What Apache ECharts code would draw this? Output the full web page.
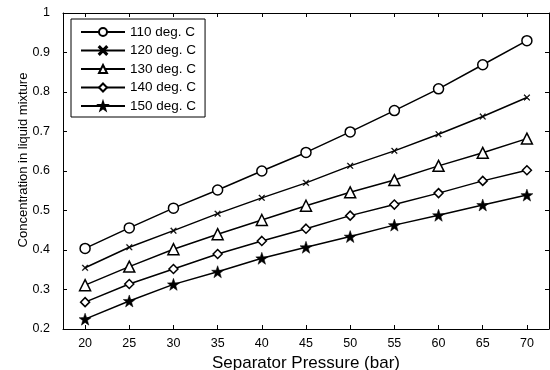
<!DOCTYPE html>
<html><head><meta charset="utf-8">
<script src="https://cdn.jsdelivr.net/npm/echarts@6/dist/echarts.min.js"></script>
<style>html,body{margin:0;padding:0;background:#fff}#c{width:550px;height:370px}</style>
</head><body><div id="c"></div>
<script>
const pressures = [20, 25, 30, 35, 40, 45, 50, 55, 60, 65, 70];
const xTicks = [20, 25, 30, 35, 40, 45, 50, 55, 60, 65, 70];
const seriesNames = ['110 deg. C', '120 deg. C', '130 deg. C', '140 deg. C', '150 deg. C'];
const s110 = [0.404, 0.456, 0.506, 0.552, 0.600, 0.647, 0.699, 0.753, 0.808, 0.869, 0.930];
const s120 = [0.355, 0.407, 0.449, 0.492, 0.532, 0.570, 0.613, 0.651, 0.693, 0.738, 0.786];
const s130 = [0.311, 0.358, 0.402, 0.440, 0.476, 0.512, 0.546, 0.577, 0.613, 0.646, 0.682];
const s140 = [0.268, 0.314, 0.352, 0.390, 0.423, 0.454, 0.487, 0.515, 0.544, 0.575, 0.602];
const s150 = [0.225, 0.271, 0.313, 0.345, 0.379, 0.407, 0.434, 0.463, 0.488, 0.514, 0.539];
const allValues = [s110, s120, s130, s140, s150];
const xTitle = 'Separator Pressure (bar)';
const yTitle = 'Concentration in liquid mixture';

const STAR = 'path://M0,-10 L2.35,-3.24 L9.51,-3.09 L3.8,1.24 L5.88,8.09 L0,4 L-5.88,8.09 L-3.8,1.24 L-9.51,-3.09 L-2.35,-3.24 Z';
const XMARK = 'path://M1,0 L5,4 L9,0 L10,1 L6,5 L10,9 L9,10 L5,6 L1,10 L0,9 L4,5 L0,1 Z';
const markers = [
  {symbol: 'circle', size: 10, hollow: true},
  {symbol: XMARK, size: 6, hollow: false},
  {symbol: 'triangle', size: 11, hollow: true},
  {symbol: 'diamond', size: 9, hollow: true},
  {symbol: STAR, size: 12, hollow: false}
];
const FONT = 'Liberation Sans, Arial, sans-serif';

const chart = echarts.init(document.getElementById('c'), null, {renderer: 'canvas'});
const axisCommon = {
  axisLine: {show: true, onZero: false, lineStyle: {color: '#000', width: 1}},
  axisTick: {show: true, inside: true, length: 4, lineStyle: {color: '#000'}},
  splitLine: {show: false}
};
chart.setOption({
  animation: false,
  backgroundColor: '#fff',
  grid: {left: 63, right: 1, top: 13, bottom: 41, containLabel: false, outerBoundsMode: 'none'},
  graphic: [{
    type: 'text', x: 23, y: 160, rotation: Math.PI / 2,
    style: {text: yTitle, font: '13px ' + FONT, fill: '#000', align: 'center', verticalAlign: 'middle'}
  }],
  legend: {
    left: 71, top: 19, orient: 'vertical',
    itemWidth: 44, itemHeight: 10, itemGap: 4.5,
    padding: [6, 9, 4, 9],
    borderColor: '#000', borderWidth: 1, backgroundColor: '#fff',
    textStyle: {fontFamily: FONT, fontSize: 13.5, lineHeight: 14, color: '#000'},
    data: seriesNames
  },
  xAxis: [
    Object.assign({}, axisCommon, {
      type: 'value', min: 17.5, max: 72.5, position: 'bottom',
      axisTick: Object.assign({}, axisCommon.axisTick, {customValues: xTicks}),
      axisLabel: {customValues: xTicks, margin: 8, color: '#000', fontFamily: FONT, fontSize: 12.5},
      name: xTitle, nameLocation: 'middle', nameGap: 18,
      nameTextStyle: {fontFamily: FONT, fontSize: 17, color: '#000'}
    }),
    Object.assign({}, axisCommon, {
      type: 'value', min: 17.5, max: 72.5, position: 'top',
      axisTick: Object.assign({}, axisCommon.axisTick, {customValues: xTicks}),
      axisLabel: {show: false, customValues: xTicks}
    })
  ],
  yAxis: [
    Object.assign({}, axisCommon, {
      type: 'value', min: 0.2, max: 1, interval: 0.1, position: 'left',
      axisLabel: {margin: 13, color: '#000', fontFamily: FONT, fontSize: 12.5,
        formatter: v => String(Math.round(v * 10) / 10)}
    }),
    Object.assign({}, axisCommon, {
      type: 'value', min: 0.2, max: 1, interval: 0.1, position: 'right',
      axisLabel: {show: false}
    })
  ],
  series: seriesNames.map((name, i) => ({
    name: name, type: 'line', xAxisIndex: 0, yAxisIndex: 0,
    data: pressures.map((p, j) => [p, allValues[i][j]]),
    symbol: markers[i].symbol, symbolSize: markers[i].size, showAllSymbol: true,
    lineStyle: {color: '#000', width: 1.5},
    itemStyle: markers[i].hollow
      ? {color: '#fff', borderColor: '#000', borderWidth: 1.5}
      : {color: '#000', borderColor: '#000', borderWidth: 0.5},
    emphasis: {disabled: true}
  }))
});
</script></body></html>
